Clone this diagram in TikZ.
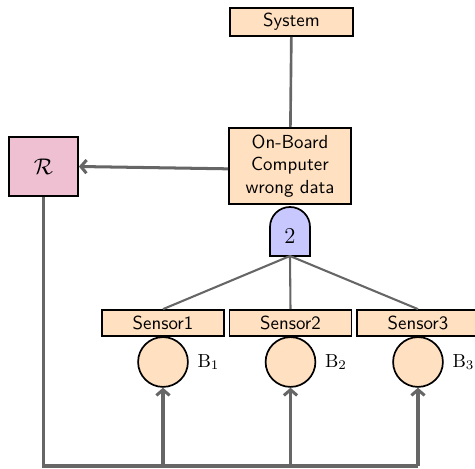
\documentclass[tikz,border=0pt]{standalone}
\usetikzlibrary{arrows.meta}
\definecolor{peach}{RGB}{255,224,192}
\definecolor{rosebox}{RGB}{239,191,210}
\definecolor{gatefill}{RGB}{200,200,255}
\definecolor{wire}{RGB}{102,102,102}
\begin{document}
\begin{tikzpicture}[x=0.53pt,y=-0.53pt,
  block/.style={draw=black,line width=0.9pt,fill=peach,font=\sffamily,inner sep=0pt,align=center},
  ball/.style={draw=black,line width=0.9pt,fill=peach,circle,minimum size=26.4pt,inner sep=0pt},
  link/.style={draw=wire,line width=1.1pt},
  heavy/.style={draw=wire,line width=1.6pt},
  barb/.style={-{Straight Barb[length=3pt,width=7pt]}}]
\useasboundingbox (0,0) rectangle (475,469);

% events
\node[block,minimum width=65.2pt,minimum height=14.8pt] (sys) at (291.5,22) {System};
\node[block,minimum width=64.7pt,minimum height=40.3pt] (ob) at (290,166) {On-Board\\Computer\\wrong data};
\node[draw=black,line width=0.9pt,fill=rosebox,minimum width=36.6pt,minimum height=31.3pt,inner sep=0pt,font=\large] (R) at (43.5,166.5) {$\mathcal{R}$};

% voting gate
\coordinate (gtop) at (290,207);
\coordinate (gbot) at (290,256);
\draw[line width=0.9pt,fill=gatefill] (270,256) -- (270,227) arc[start angle=180,end angle=0,radius=10.6pt] -- (310,256) -- cycle;
\node[font=\large] (g) at (290,236) {$2$};

% sensors and their basic events
\foreach \i/\x in {1/163,2/290.5,3/418}{
  \node[block,minimum width=64.7pt,minimum height=13.8pt] (s\i) at (\x,323) {Sensor\i};
  \node[ball] (b\i) at (\x,362) {};
  \node[anchor=west,inner sep=0pt] (l\i) at ([xshift=4.5pt]b\i.east) {$\mathrm{B}_{\i}$};
  \coordinate (f\i) at (\x,466);
}

% tree connectors
\draw[heavy,line width=1.4pt] (sys) -- (ob);
\draw[link] (gbot) -- (s1.north);
\draw[link] (gbot) -- (s2.north);
\draw[link] (gbot) -- (s3.north);
\draw[heavy,barb] ([yshift=-1.5pt]ob.west) -- (R.east);

% feedback from the repair unit
\draw[heavy] (R.south) |- (f3);
\foreach \i in {1,2,3}{\draw[heavy,barb] (f\i) -- (b\i.south);}
\end{tikzpicture}
\end{document}
